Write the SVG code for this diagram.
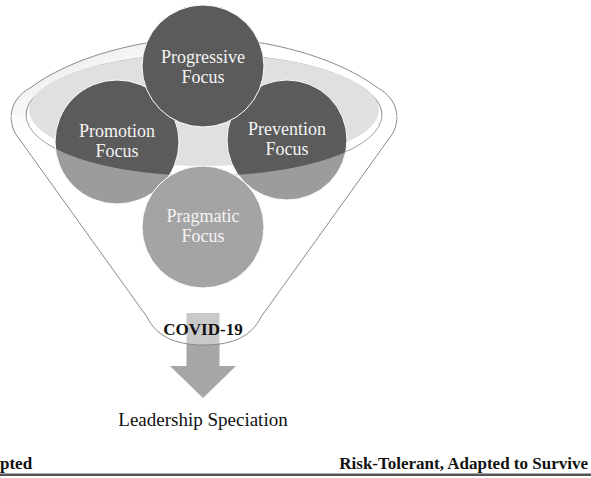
<svg xmlns="http://www.w3.org/2000/svg" width="591" height="478" viewBox="0 0 591 478">
<style>
.ln{fill:none;stroke:#8a8a8a;stroke-width:1}
.dark{fill:#5b5b5b;stroke:#ffffff;stroke-width:1}
.lt{font-family:"Liberation Serif","Times New Roman",serif;font-size:18px;fill:#f4f4f4;text-anchor:middle}
.bk{font-family:"Liberation Serif","Times New Roman",serif;fill:#111;font-weight:bold}
</style>
<defs>
<linearGradient id="rim" x1="0" y1="0" x2="1" y2="0.6">
<stop offset="0" stop-color="#e2e2e2"/>
<stop offset="0.45" stop-color="#ffffff"/>
</linearGradient>
</defs>
<rect width="591" height="478" fill="#ffffff"/>
<g id="funnel">
<path d="M20,140 C6,124 8,100 30,88 C70,58 140,38 204,38 C268,38 338,58 378,88 C400,100 402,124 388,140 L261,317 C252,335 235,345 204,345 C173,345 156,335 147,317 Z" fill="#ffffff"/>
<path d="M20,140 C6,124 8,100 30,88 C70,58 140,38 204,38 C268,38 338,58 378,88 C400,100 402,124 388,140 Z" fill="url(#rim)"/>
<path class="ln" d="M20,140 C6,124 8,100 30,88 C70,58 140,38 204,38 C268,38 338,58 378,88 C400,100 402,124 388,140"/>
<ellipse cx="204" cy="115" rx="178" ry="61" fill="#ffffff" stroke="#8a8a8a" stroke-width="1"/>
<ellipse cx="204" cy="110" rx="175" ry="56" fill="#e0e0e0"/>
</g>
<g id="connectors">
<path id="arrow" d="M186.5,313 H219.5 V366 H236 L203,398 L170,366 H186.5 Z" fill="#a6a6a6"/>
</g>
<g id="promotion">
<circle class="dark" cx="117" cy="142" r="62"/>
<text class="lt" x="117" y="137">Promotion</text>
<text class="lt" x="117" y="157">Focus</text>
</g>
<g id="prevention">
<circle class="dark" cx="287" cy="140" r="60"/>
<text class="lt" x="287" y="135">Prevention</text>
<text class="lt" x="287" y="155">Focus</text>
</g>
<g id="progressive">
<circle class="dark" cx="203" cy="66" r="61"/>
<text class="lt" x="203" y="63">Progressive</text>
<text class="lt" x="203" y="83">Focus</text>
</g>
<path id="funnel-body" d="M26,115 A178,61 0 0 0 382,115 L398,115 L388,140 L261,317 C252,335 235,345 204,345 C173,345 156,335 147,317 L20,140 L10,115 Z" fill="#ffffff" fill-opacity="0.4"/>
<path class="ln" d="M388,140 L261,317 C252,335 235,345 204,345 C173,345 156,335 147,317 L20,140"/>
<g id="pragmatic">
<circle cx="203" cy="227" r="61" fill="#a4a4a4" stroke="#ffffff" stroke-width="1"/>
<text class="lt" x="203" y="222">Pragmatic</text>
<text class="lt" x="203" y="242">Focus</text>
</g>
<g id="covid">
<text class="bk" x="203" y="335" font-size="17" text-anchor="middle">COVID-19</text>
</g>
<g id="leadership">
<text x="203" y="426" font-family="Liberation Serif, Times New Roman, serif" font-size="19" fill="#111" text-anchor="middle">Leadership Speciation</text>
</g>
<g id="axis">
<text class="bk" x="0" y="469" font-size="17">pted</text>
<text class="bk" x="588" y="469" font-size="17" text-anchor="end">Risk-Tolerant, Adapted to Survive</text>
<rect x="0" y="473.5" width="591" height="2.5" fill="#555555"/>
</g>
</svg>
